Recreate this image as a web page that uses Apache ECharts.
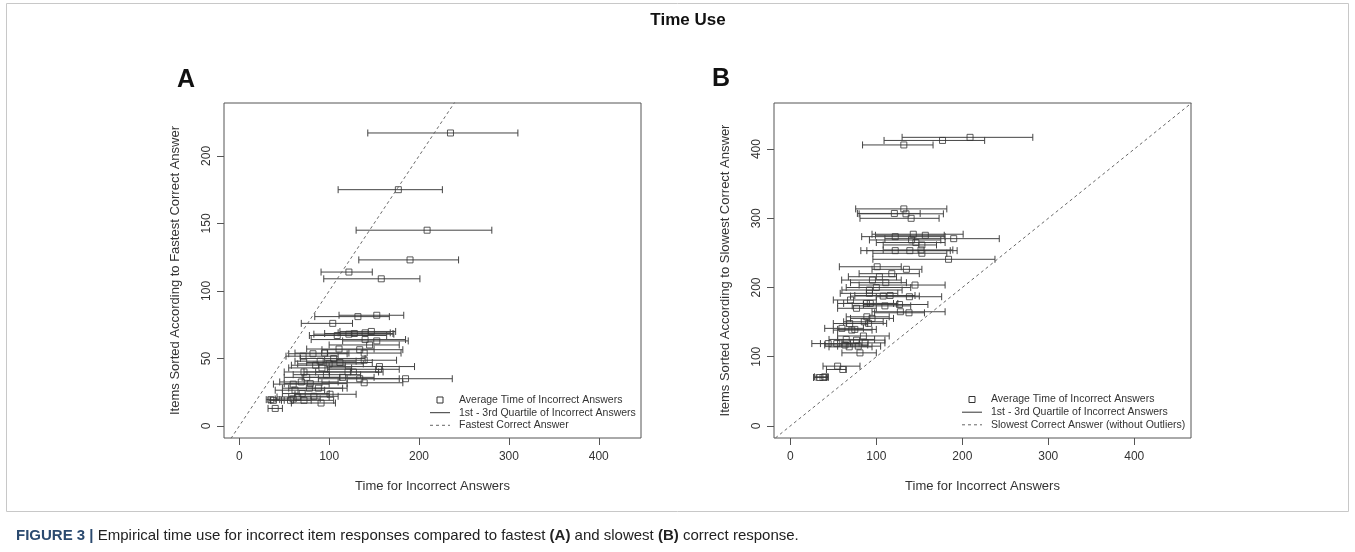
<!DOCTYPE html>
<html>
<head>
<meta charset="utf-8">
<title>Time Use</title>
<script src="https://cdn.jsdelivr.net/npm/echarts@6/dist/echarts.min.js"></script>
<style>
  html, body { margin: 0; padding: 0; background: #fff; }
  #chart { width: 1355px; height: 552px; }
</style>
</head>
<body>
<div id="chart"></div>
<script>
// tick values
const xTicks = [0, 100, 200, 300, 400];
const yTicksA = [0, 50, 100, 150, 200];
const yTicksB = [0, 100, 200, 300, 400];

// A: mean time of incorrect answers, fastest correct answer, 1st / 3rd quartile
const meanA = [235, 177, 209, 190, 122, 158, 132, 153, 104, 109, 122, 128, 140, 147, 140, 153, 145, 111, 134, 139,
  71, 82, 90, 105, 112, 139, 156, 155, 121, 127, 92, 134, 139, 185, 69, 79, 60, 78, 101, 62,
  65, 60, 72, 91, 35, 40, 38, 85, 97, 75, 88, 70, 83, 57, 100, 95, 115, 72];
const fastestA = [217, 175, 145, 123, 114, 109, 81, 82, 76, 67, 68, 68.5, 69, 70, 64, 63, 60, 57, 56.5, 54,
  51.7, 53.5, 48, 50, 47, 48.7, 44, 42, 40, 40, 43, 35, 32, 35, 32.6, 31.4, 31, 28, 23.5, 26.5,
  21.5, 20, 19, 17, 19.5, 13, 19, 45, 38, 36, 28, 24, 22, 19, 46, 54, 36, 40];
const q1A = [143, 110, 130, 133, 91, 94, 84, 111, 69, 78, 83, 95, 110, 112, 80, 115, 100, 75, 92, 98,
  52, 55, 62, 68, 75, 95, 100, 98, 72, 85, 55, 88, 92, 120, 45, 50, 38, 48, 62, 40,
  42, 40, 47, 58, 30, 32, 33, 58, 60, 50, 55, 48, 55, 35, 65, 62, 70, 50];
const q3A = [310, 226, 281, 244, 148, 201, 167, 183, 126, 164, 172, 171, 168, 174, 185, 188, 178, 150, 182, 180,
  110, 120, 130, 140, 148, 175, 195, 178, 155, 160, 125, 178, 182, 237, 110, 120, 100, 115, 130, 95,
  100, 90, 105, 107, 45, 48, 50, 118, 135, 112, 120, 100, 110, 80, 138, 122, 150, 100];

// B: mean time of incorrect answers, slowest correct answer, 1st / 3rd quartile
const meanB = [209, 177, 132, 132, 121, 134.5, 140.5, 122, 143, 157, 190, 141, 146, 153, 122, 139, 152, 153, 184, 101,
  135, 103.6, 95.5, 111, 145, 92, 92, 108, 116, 138.5, 70, 88.5, 93, 110, 127, 77, 128, 138, 89, 95,
  86, 91, 69, 60, 71.5, 75, 77, 44, 54, 63.5, 68.5, 79, 87, 81, 55, 61, 34.4, 38, 40, 85,
  65, 100, 118];
const slowestB = [417, 412.5, 406, 313.6, 307, 306.5, 300, 273.5, 277, 275.5, 270.6, 268.7, 265, 261.5, 253.3, 253.3, 254.3, 249.5, 240.8, 230,
  226.3, 215.6, 210.8, 207, 203.6, 196.4, 191.6, 187.7, 188.5, 186.7, 182, 177, 177, 173.5, 175.5, 170, 165, 163.5, 157.7, 155.4,
  150.5, 148.2, 148, 141, 138.5, 139.5, 124, 119, 119, 117, 114.3, 115.3, 120, 105.6, 86.4, 81.6, 70, 70, 71, 130,
  125, 200, 220];
const q1B = [130, 109, 84, 76, 78, 80, 81, 83, 95, 99, 110, 92, 100, 108, 82, 89, 108, 96, 96, 57,
  95, 67.5, 59.7, 70, 80, 60, 58, 70, 75, 100, 50, 55, 62, 72, 85, 55, 95, 98, 65, 70,
  62, 65, 50, 40, 50, 55, 55, 25, 35, 40, 45, 55, 60, 60, 38, 42, 27, 30, 28, 55,
  45, 65, 80];
const q3B = [282, 226, 166, 182, 151, 178, 173, 180, 201, 179, 243, 175, 180, 170, 186, 194, 189, 182, 238, 129,
  153, 123.5, 129, 135, 180, 130, 125, 150, 145, 176, 100, 120, 125, 140, 160, 100, 180, 156, 115, 120,
  108, 112, 90, 85, 95, 100, 110, 70, 80, 90, 95, 105, 110, 100, 81, 65, 44, 42, 44, 115,
  98, 140, 150];

// reference line y = x
const diagonal = [[-50, -50], [600, 600]];

const legendA = ['Average Time of Incorrect Answers', '1st - 3rd Quartile of Incorrect Answers', 'Fastest Correct Answer'];
const legendB = ['Average Time of Incorrect Answers', '1st - 3rd Quartile of Incorrect Answers', 'Slowest Correct Answer (without Outliers)'];

const FONT = '"Liberation Sans", Arial, sans-serif';
const ink = '#333';
const axisGray = '#555';

const chart = echarts.init(document.getElementById('chart'));

function xAxisCfg(gridIndex, min, max) {
  return {
    type: 'value', gridIndex, min, max,
    name: 'Time for Incorrect Answers', nameLocation: 'middle', nameGap: 42,
    nameTextStyle: { fontFamily: FONT, fontSize: 13, color: ink },
    axisLine: { show: false, onZero: false },
    splitLine: { show: false },
    axisTick: { show: true, length: 7, lineStyle: { color: axisGray }, customValues: xTicks },
    axisLabel: { customValues: xTicks, fontFamily: FONT, fontSize: 12, color: ink, margin: 13 }
  }
}

function yAxisCfg(gridIndex, min, max, ticks, title) {
  return {
    type: 'value', gridIndex, min, max,
    name: title, nameLocation: 'middle', nameGap: 42,
    nameTextStyle: { fontFamily: FONT, fontSize: 13, color: ink },
    axisLine: { show: false, onZero: false },
    splitLine: { show: false },
    axisTick: { show: true, length: 7, lineStyle: { color: axisGray }, customValues: ticks },
    axisLabel: { customValues: ticks, rotate: 90, fontFamily: FONT, fontSize: 12, color: ink, margin: 11 }
  }
}

function renderErrorBar(params, api) {
  const y = api.value(2);
  const a = api.coord([api.value(0), y]);
  const b = api.coord([api.value(1), y]);
  const cap = 3.5;
  const style = { stroke: '#444', lineWidth: 1 };
  return {
    type: 'group',
    children: [
      { type: 'line', shape: { x1: a[0], y1: a[1], x2: b[0], y2: b[1] }, style },
      { type: 'line', shape: { x1: a[0], y1: a[1] - cap, x2: a[0], y2: a[1] + cap }, style },
      { type: 'line', shape: { x1: b[0], y1: b[1] - cap, x2: b[0], y2: b[1] + cap }, style }
    ]
  }
}

function panelSeries(idx, mean, ref, q1, q3, lineName) {
  return [
    {
      type: 'custom', name: legendA[1], xAxisIndex: idx, yAxisIndex: idx,
      renderItem: renderErrorBar, encode: { x: [0, 1], y: 2 },
      data: mean.map((m, i) => [q1[i], q3[i], ref[i]]), silent: true
    },
    {
      type: 'scatter', name: legendA[0], xAxisIndex: idx, yAxisIndex: idx,
      symbol: 'rect', symbolSize: 6,
      itemStyle: { color: 'rgba(0,0,0,0)', borderColor: ink, borderWidth: 1 },
      data: mean.map((m, i) => [m, ref[i]])
    },
    {
      type: 'line', name: lineName, xAxisIndex: idx, yAxisIndex: idx,
      data: diagonal, symbol: 'none', clip: true,
      lineStyle: { color: '#666', width: 1, type: [3, 3] }
    }
  ]
}

function legendGraphic(x, y, labels) {
  const st = { stroke: ink, lineWidth: 1 };
  const items = [
    { type: 'rect', shape: { x: x + 7, y: y - 3, width: 6, height: 6 }, style: { fill: 'none', stroke: ink } },
    { type: 'line', shape: { x1: x, y1: y + 12.7, x2: x + 20, y2: y + 12.7 }, style: st },
    { type: 'line', shape: { x1: x, y1: y + 25.3, x2: x + 20, y2: y + 25.3 }, style: { stroke: '#666', lineWidth: 1, lineDash: [3, 3] } }
  ];
  labels.forEach((t, i) => {
    items.push({
      type: 'text', x: x + 29, y: y + i * 12.7,
      style: { text: t, fill: ink, font: '10.5px ' + FONT, verticalAlign: 'middle' }
    })
  });
  return { type: 'group', children: items };
}

const option = {
  animation: false,
  backgroundColor: '#fff',
  grid: [
    { left: 224, top: 103, width: 417, height: 335, show: true, borderColor: axisGray, borderWidth: 1 },
    { left: 774, top: 103, width: 417, height: 335, show: true, borderColor: axisGray, borderWidth: 1 }
  ],
  xAxis: [xAxisCfg(0, -17, 447), xAxisCfg(1, -19, 466)],
  yAxis: [
    yAxisCfg(0, -8.9, 239.2, yTicksA, 'Items Sorted According to Fastest Correct Answer'),
    yAxisCfg(1, -17.4, 466.6, yTicksB, 'Items Sorted According to Slowest Correct Answer')
  ],
  series: [
    ...panelSeries(0, meanA, fastestA, q1A, q3A, legendA[2]),
    ...panelSeries(1, meanB, slowestB, q1B, q3B, legendB[2])
  ],
  graphic: [
    { type: 'rect', shape: { x: 6.5, y: 3.5, width: 1342, height: 508 }, style: { fill: 'none', stroke: '#c8c8c8' } },
    { type: 'text', x: 688, y: 20, style: { text: 'Time Use', font: 'bold 17px ' + FONT, fill: '#111', align: 'center', verticalAlign: 'middle' } },
    { type: 'text', x: 177, y: 80, style: { text: 'A', font: 'bold 25px ' + FONT, fill: '#111', verticalAlign: 'middle' } },
    { type: 'text', x: 712, y: 79, style: { text: 'B', font: 'bold 25px ' + FONT, fill: '#111', verticalAlign: 'middle' } },
    legendGraphic(430, 400, legendA),
    legendGraphic(962, 399.5, legendB),
    {
      type: 'text', x: 16, y: 536,
      style: {
        text: '{b|FIGURE 3 |} Empirical time use for incorrect item responses compared to fastest {k|(A)} and slowest {k|(B)} correct response.',
        font: '15px ' + FONT, fill: '#222', verticalAlign: 'middle',
        rich: {
          b: { fontWeight: 'bold', fontSize: 15, fontFamily: FONT, fill: '#2b4a6f' },
          k: { fontWeight: 'bold', fontSize: 15, fontFamily: FONT, fill: '#222' }
        }
      }
    }
  ]
};

chart.setOption(option);
</script>
</body>
</html>
